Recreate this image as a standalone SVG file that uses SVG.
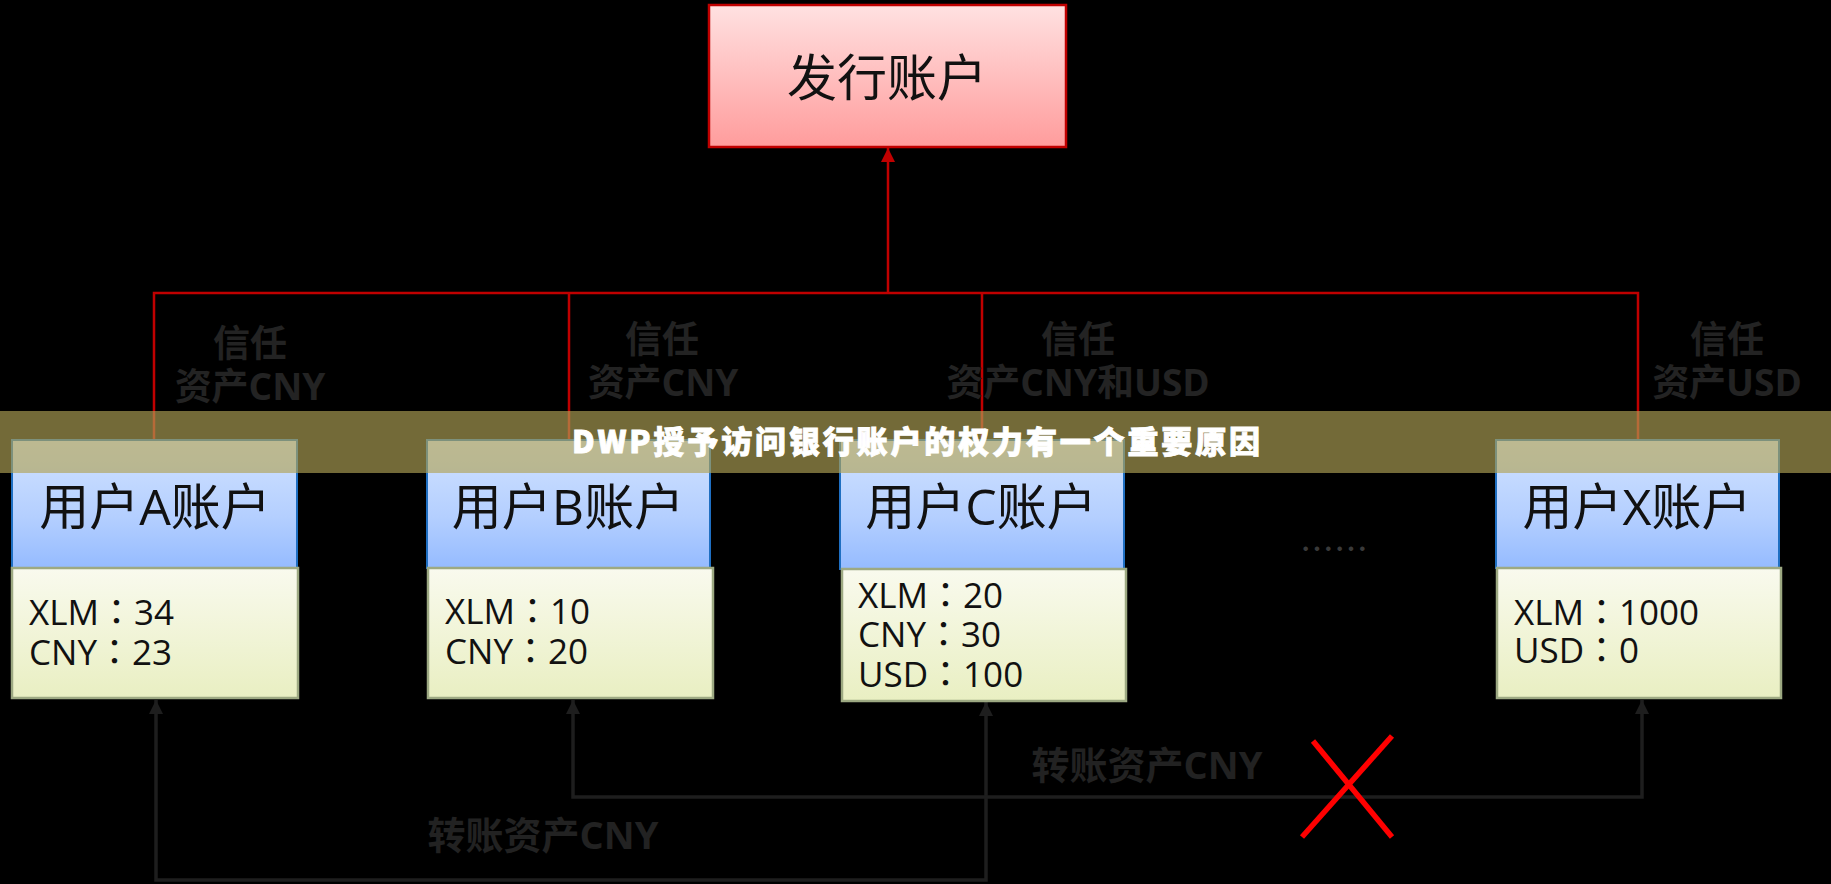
<svg xmlns="http://www.w3.org/2000/svg" width="1831" height="884" viewBox="0 0 1831 884">
<defs>
<linearGradient id="gRed" x1="0" y1="0" x2="0" y2="1"><stop offset="0" stop-color="#FFE1E1"/><stop offset="1" stop-color="#FF9C9C"/></linearGradient>
<linearGradient id="gBlue" x1="0" y1="0" x2="0" y2="1"><stop offset="0" stop-color="#D2E3FF"/><stop offset="0.6" stop-color="#B4CFFF"/><stop offset="1" stop-color="#95BBFF"/></linearGradient>
<linearGradient id="gBody" x1="0" y1="0" x2="0" y2="1"><stop offset="0" stop-color="#F9FAEE"/><stop offset="1" stop-color="#E9EFC2"/></linearGradient>
<marker id="arRed" viewBox="0 0 10 10" refX="10" refY="5" markerWidth="14" markerHeight="14" markerUnits="userSpaceOnUse" orient="auto"><path d="M0,0 L10,5 L0,10 Z" fill="#C00000"/></marker>
<marker id="arDark" viewBox="0 0 10 10" refX="10" refY="5" markerWidth="16" markerHeight="14" markerUnits="userSpaceOnUse" orient="auto-start-reverse"><path d="M0,0 L10,5 L0,10 Z" fill="#1E1E1E"/></marker>
</defs>
<style>
.bg{fill:#000}
.red{fill:none;stroke:#C00000;stroke-width:2.5}
.dark{fill:none;stroke:#1E1E1E;stroke-width:3.5}
.hdr{fill:url(#gBlue);stroke:#1F6FC2;stroke-width:2}
.body{fill:url(#gBody);stroke:#9DA982;stroke-width:2.5}
.title{font-family:"Open Sans","Noto Sans CJK SC",sans-serif;font-size:50px;fill:#111;text-anchor:middle}
.val{font-family:"Open Sans","Noto Sans CJK TC",sans-serif;font-size:35px;fill:#111}
.lbl{font-family:"Open Sans","Noto Sans CJK SC",sans-serif;font-weight:bold;font-size:37px;fill:#232323;text-anchor:middle}
.xfer{font-family:"Open Sans","Noto Sans CJK SC",sans-serif;font-weight:bold;font-size:38px;fill:#222;text-anchor:middle}
</style>
<rect class="bg" x="0" y="0" width="1831" height="884"/>

<g id="connectors">
  <path class="red" d="M154,440 V293 H1638 V440"/>
  <path class="red" d="M569,293 V440"/>
  <path class="red" d="M982,293 V440"/>
  <path class="red" d="M888,293 V148" marker-end="url(#arRed)"/>
  <path class="dark" d="M156,700 V880 H986 V702" marker-start="url(#arDark)" marker-end="url(#arDark)"/>
  <path class="dark" d="M573,700 V797 H1642 V700" marker-start="url(#arDark)" marker-end="url(#arDark)"/>
  <g id="cross" stroke="#FF0000" stroke-width="5.5" fill="none">
    <line x1="1313" y1="741" x2="1392" y2="837"/>
    <line x1="1392" y1="736" x2="1302" y2="837"/>
  </g>
</g>

<g id="issuer">
  <rect x="709" y="5" width="357" height="142" fill="url(#gRed)" stroke="#C00000" stroke-width="2.5"/>
  <text class="title" x="887" y="96">发行账户</text>
</g>

<g id="labels">
  <text class="lbl" x="250" y="357">信任</text>
  <text class="lbl" x="250" y="400">资产CNY</text>
  <text class="lbl" x="662" y="353">信任</text>
  <text class="lbl" x="663" y="396">资产CNY</text>
  <text class="lbl" x="1078" y="353">信任</text>
  <text class="lbl" x="1078" y="396">资产CNY和USD</text>
  <text class="lbl" x="1727" y="353">信任</text>
  <text class="lbl" x="1727" y="396">资产USD</text>
  <text class="xfer" x="1147" y="779">转账资产CNY</text>
  <text class="xfer" x="543" y="849">转账资产CNY</text>
</g>

<g id="userA">
  <rect class="hdr" x="12" y="440" width="285" height="128"/>
  <rect class="body" x="12" y="568" width="286" height="130"/>
  <text class="title" x="155" y="525">用户A账户</text>
  <text class="val" x="29" y="625">XLM：34</text>
  <text class="val" x="29" y="665">CNY：23</text>
</g>
<g id="userB">
  <rect class="hdr" x="427" y="440" width="283" height="128"/>
  <rect class="body" x="428" y="568" width="285" height="130"/>
  <text class="title" x="568" y="525">用户B账户</text>
  <text class="val" x="445" y="624">XLM：10</text>
  <text class="val" x="445" y="664">CNY：20</text>
</g>
<g id="userC">
  <rect class="hdr" x="840" y="440" width="284" height="129"/>
  <rect class="body" x="842" y="569" width="284" height="132"/>
  <text class="title" x="981" y="525">用户C账户</text>
  <text class="val" x="858" y="608">XLM：20</text>
  <text class="val" x="858" y="647">CNY：30</text>
  <text class="val" x="858" y="687">USD：100</text>
</g>
<g id="ellipsis">
  <text x="1300" y="562" font-family="Noto Sans CJK SC, sans-serif" font-size="34" fill="#3A3A3A">……</text>
</g>
<g id="userX">
  <rect class="hdr" x="1496" y="440" width="283" height="128"/>
  <rect class="body" x="1497" y="568" width="284" height="130"/>
  <text class="title" x="1637" y="525">用户X账户</text>
  <text class="val" x="1514" y="625">XLM：1000</text>
  <text class="val" x="1514" y="663">USD：0</text>
</g>

<g id="banner">
  <rect x="0" y="411" width="1831" height="62" fill="#B1A356" fill-opacity="0.65"/>
  <text x="916" y="453" font-family="Noto Sans CJK SC, sans-serif" font-weight="900" font-size="31" fill="#FFFFFF" stroke="#FFFFFF" stroke-width="0.9" text-anchor="middle" textLength="688" lengthAdjust="spacing">DWP授予访问银行账户的权力有一个重要原因</text>
</g>
</svg>
